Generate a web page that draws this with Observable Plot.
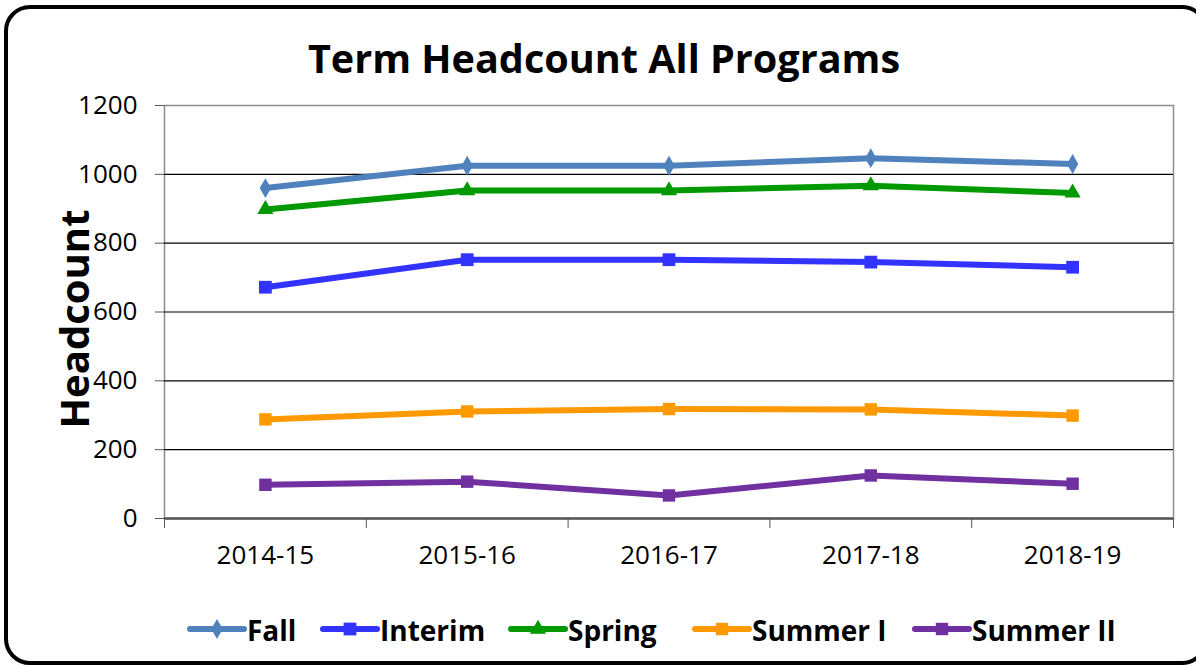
<!DOCTYPE html>
<html>
<head>
<meta charset="utf-8">
<script src="https://cdn.jsdelivr.net/npm/d3@7"></script>
<script src="https://cdn.jsdelivr.net/npm/@observablehq/plot@0.6"></script>
<style>
  html, body { margin: 0; padding: 0; background: #fff; overflow: hidden; }
  #wrap { position: relative; width: 1196px; height: 666px; overflow: hidden; font-family: "Open Sans", sans-serif; }
  #border { position: absolute; left: 4px; top: 5px; width: 1204px; height: 660px; box-sizing: border-box;
            border: 4px solid #000; border-radius: 26px; pointer-events: none; }
  #chart { position: absolute; left: 0; top: 0; }
  #overlay { position: absolute; left: 0; top: 0; }
  .leg { position: absolute; top: 611px; height: 38px; display: flex; align-items: center; white-space: nowrap;
         font-family: "Open Sans", sans-serif; font-weight: 700; font-size: 28px; color: #000; }
  .leg svg { display: block; }
</style>
</head>
<body>
<div id="wrap">
  <div id="chart"></div>
  <svg id="overlay" width="1196" height="666"></svg>
  <div id="legend"></div>
  <div id="border"></div>
</div>
<script>
const titleText = "Term Headcount All Programs";
const yLabel = "Headcount";
const categories = ["2014-15", "2015-16", "2016-17", "2017-18", "2018-19"];
const seriesNames = ["Fall", "Interim", "Spring", "Summer I", "Summer II"];
const fall = [960, 1025, 1025, 1047, 1030];
const interim = [672, 752, 752, 745, 730];
const spring = [898, 953, 953, 967, 946];
const summer1 = [288, 311, 318, 317, 299];
const summer2 = [98, 107, 67, 125, 101];
const yTicks = [0, 200, 400, 600, 800, 1000, 1200];
const gridTicks = [200, 400, 600, 800, 1000];

const colors = ["#4f81bd", "#3333ff", "#009900", "#ff9900", "#7030a0"];
const symbols = ["diamond", "square", "triangle", "square", "square"];
const radii = [6, 7.2, 6, 7, 7];
const d3symbols = [d3.symbolDiamond, d3.symbolSquare, d3.symbolTriangle, d3.symbolSquare, d3.symbolSquare];

const valuesBySeries = [fall, interim, spring, summer1, summer2];
const data = [];
seriesNames.forEach((s, si) => {
  categories.forEach((c, ci) => {
    data.push({series: s, category: c, xi: ci + 0.5, value: valuesBySeries[si][ci]});
  });
});
const centers = categories.map((c, i) => i + 0.5);
const bounds = d3.range(categories.length + 1);

const W = 1196, H = 666;
const chart = Plot.plot({
  width: W,
  height: H,
  marginLeft: 164,
  marginRight: 23,
  marginTop: 105,
  marginBottom: 148,
  style: {fontFamily: "Open Sans, sans-serif", fontSize: "26px", color: "#000", background: "transparent"},
  x: {type: "linear", domain: [0, categories.length], axis: null},
  y: {domain: [0, 1200], axis: null},
  color: {domain: seriesNames, range: colors},
  marks: [
    Plot.frame({stroke: "#8c8c8c", strokeWidth: 1.5}),
    Plot.ruleY(gridTicks, {stroke: "#000", strokeWidth: 1.2}),
    Plot.ruleY([0], {stroke: "#555", strokeWidth: 2.5}),
    Plot.axisY(yTicks, {tickSize: 9, tickPadding: 18, fontSize: 26, label: null, stroke: "#555", tickFormat: d => String(d)}),
    Plot.axisX(bounds, {tickSize: 10, tickFormat: () => "", label: null, stroke: "#555"}),
    Plot.axisX(centers, {tickSize: 0, tickPadding: 27, fontSize: 26, label: null, tickFormat: d => categories[Math.round(d - 0.5)]}),
    ...seriesNames.map((s, si) => Plot.line(data.filter(d => d.series === s), {
      x: "xi", y: "value", stroke: "series", strokeWidth: 6, strokeLinejoin: "round"
    })),
    ...seriesNames.map((s, si) => Plot.dot(data.filter(d => d.series === s), {
      x: "xi", y: "value", fill: "series", stroke: "none", symbol: () => symbols[si], r: radii[si]
    }))
  ]
});
document.getElementById("chart").appendChild(chart);

// title and y label
const ov = d3.select("#overlay");
ov.append("text")
  .attr("x", 604).attr("y", 73)
  .attr("text-anchor", "middle")
  .attr("font-family", "Open Sans, sans-serif").attr("font-weight", 700).attr("font-size", 39.6)
  .text(titleText);
ov.append("text")
  .attr("transform", "translate(89,319) rotate(-90)")
  .attr("text-anchor", "middle")
  .attr("font-family", "Open Sans, sans-serif").attr("font-weight", 700).attr("font-size", 40)
  .text(yLabel);

// legend
const legLefts = [187, 320, 508, 692, 912];
const legend = d3.select("#legend");
seriesNames.forEach((s, i) => {
  const item = legend.append("div").attr("class", "leg").style("left", legLefts[i] + "px");
  const sv = item.append("svg").attr("width", 60).attr("height", 38);
  sv.append("line").attr("x1", 3).attr("x2", 57).attr("y1", 18).attr("y2", 18)
    .attr("stroke", colors[i]).attr("stroke-width", 6).attr("stroke-linecap", "round");
  sv.append("path").attr("transform", "translate(30,18)")
    .attr("d", d3.symbol(d3symbols[i], radii[i] * radii[i] * Math.PI)())
    .attr("fill", colors[i]);
  item.append("span").text(s);
});
</script>
</body>
</html>
